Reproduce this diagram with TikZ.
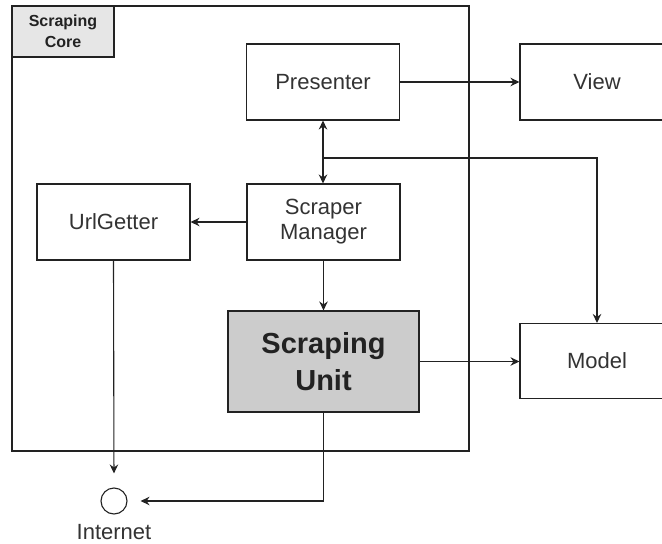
\documentclass[tikz,border=0pt]{standalone}
\usepackage{fontspec}
\setmainfont{Liberation Sans}
\usetikzlibrary{arrows.meta}
\definecolor{labelgray}{HTML}{E6E6E6}
\definecolor{unitgray}{HTML}{CCCCCC}
\definecolor{ink}{HTML}{222222}
\definecolor{textink}{HTML}{333333}
\begin{document}
\begin{tikzpicture}[x=1pt,y=-1pt,
  box/.style={draw=ink, line width=1.1pt, fill=white, minimum width=153pt,
    minimum height=76pt, inner sep=0pt, text=textink, align=center,
    font=\fontsize{22}{25}\selectfont},
  conn/.style={draw=ink, line width=1.1pt},
  tip/.style={-{Stealth[length=9pt,width=8.5pt,inset=3pt]}},
  tips/.style={{Stealth[length=9pt,width=8.5pt,inset=3pt]}-{Stealth[length=9pt,width=8.5pt,inset=3pt]}}
]
\useasboundingbox (0,0) rectangle (662,544);
\begin{scope}
\clip (0,0) rectangle (662,544);

% container for the scraping core
\node (core) [draw=ink, line width=1.1pt, minimum width=457pt, minimum height=445pt,
  inner sep=0pt] at (240.5,228.5) {};
\node (corelabel) [draw=ink, line width=1.1pt, fill=labelgray, minimum width=102pt,
  minimum height=51pt, inner sep=0pt, align=center, text=ink,
  font=\fontsize{16}{21}\selectfont\bfseries] at (63,31.5) {Scraping\\Core};

% components
\node (pres) [box] at (323,82) {Presenter};
\node (view) [box, minimum width=154pt] at (597,82) {View};
\node (url) [box] at (113.5,222) {UrlGetter};
\node (mgr) [box] at (323.5,222) {Scraper\\Manager};
\node (unit) [box, fill=unitgray, text=ink, minimum width=191pt, minimum height=101pt,
  font=\fontsize{29}{37}\selectfont\bfseries] at (323.5,361.5) {Scraping\\Unit};
\node (model) [box, minimum width=154pt, minimum height=75pt] at (597,361) {Model};

% internet endpoint
\node (inet) [draw=ink, line width=1.1pt, circle, minimum size=26pt, inner sep=0pt] at (114,501) {};
\node (inetlabel) [text=textink, font=\fontsize{22}{25}\selectfont, inner sep=0pt] at (114,532) {Internet};

% connectors
\draw[conn,tip] (pres) -- (view);
\draw[conn,tips] (pres.south) -- (pres.south |- mgr.north);
\coordinate (branch) at (323,158);
\draw[conn,tip] (branch) -| (model.north);
\draw[conn,tip] (mgr.west) -- (url.east);
\draw[conn,tip] (mgr.south) -- (unit.north);
\draw[conn,tip] (unit.east) -- (unit.east -| model.west);
\draw[conn,tip,shorten >=14pt] (url.south) -- (inet.north);
\draw[conn,tip,shorten >=13pt] (unit.south) |- (inet.east);
\end{scope}
\end{tikzpicture}
\end{document}
